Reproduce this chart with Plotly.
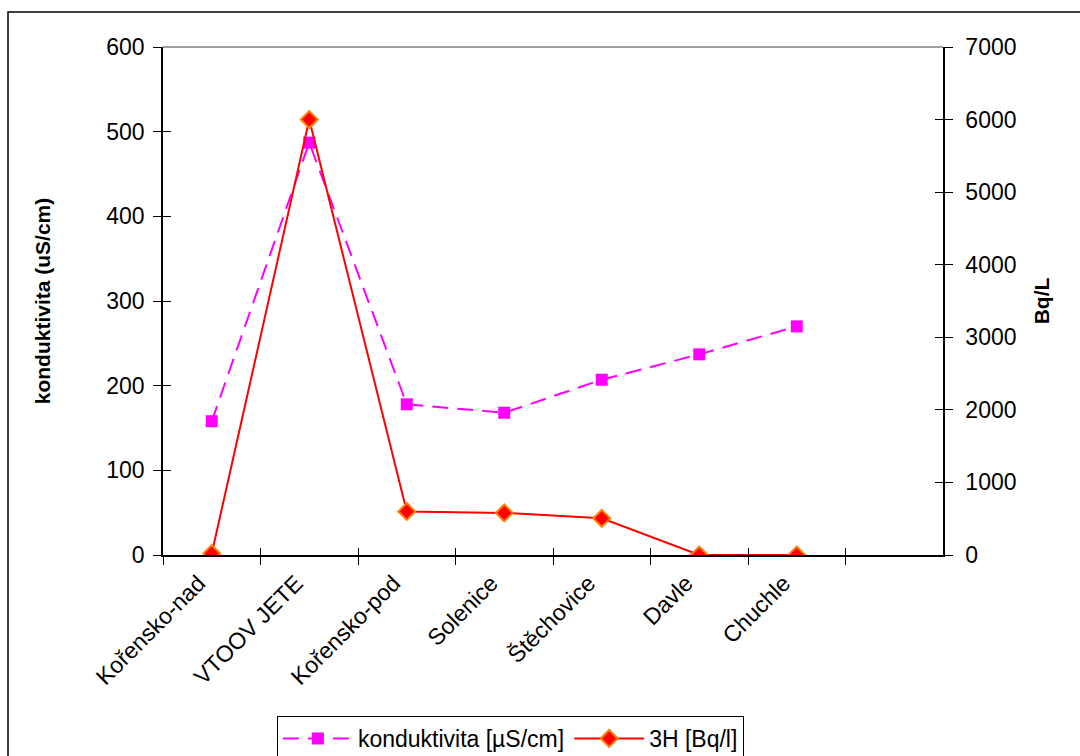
import plotly.graph_objects as go

categories = ["Kořensko-nad", "VTOOV JETE", "Kořensko-pod", "Solenice",
              "Štěchovice", "Davle", "Chuchle"]
konduktivita = [158, 487, 178, 168, 207, 237, 270]
tritium = [20, 6000, 600, 580, 505, 0, 0]
left_ticks = [0, 100, 200, 300, 400, 500, 600]
right_ticks = [0, 1000, 2000, 3000, 4000, 5000, 6000, 7000]
boundaries = [-0.5, 0.5, 1.5, 2.5, 3.5, 4.5, 5.5, 6.5, 7.5]

FONT = "Liberation Sans, Arial, sans-serif"

fig = go.Figure()
fig.add_trace(go.Scatter(
    x=categories, y=konduktivita, name="konduktivita [µS/cm]",
    mode="lines+markers",
    line=dict(color="#FF00FF", width=2, dash="16px,9px"),
    marker=dict(symbol="square", size=12, color="#FF00FF"),
))
fig.add_trace(go.Scatter(
    x=categories, y=tritium, name="3H [Bq/l]", yaxis="y2",
    mode="lines+markers",
    line=dict(color="#FF0000", width=2),
    marker=dict(symbol="diamond", size=13, color="#FF0000",
                line=dict(color="#FF7F00", width=2)),
))
# empty helper traces so the overlay axes (inner halves of the crossing ticks) are drawn
fig.add_trace(go.Scatter(x=[], y=[], xaxis="x2", yaxis="y3", showlegend=False,
                         hoverinfo="skip"))
fig.add_trace(go.Scatter(x=[], y=[], xaxis="x2", yaxis="y4", showlegend=False,
                         hoverinfo="skip"))

axfont = dict(family=FONT, size=23, color="black")
titlefont = dict(family=FONT, size=21, color="black")
fig.update_layout(
    width=1080, height=756,
    margin=dict(l=163, r=137, t=47, b=201, autoexpand=False),
    paper_bgcolor="white", plot_bgcolor="white",
    font=axfont,
    showlegend=True,
    legend=dict(orientation="h", x=0.146, y=-0.317, xanchor="left", yanchor="top",
                bordercolor="black", borderwidth=1, font=dict(family=FONT, size=23),
                itemwidth=70, tracegroupgap=0),
    xaxis=dict(type="category", categoryorder="array", categoryarray=categories,
               range=[-0.5, 7.5], tickson="boundaries", ticks="outside", ticklen=8,
               tickcolor="black", tickangle=-45, showline=True, linecolor="black",
               linewidth=1.5, showgrid=False, zeroline=False, tickfont=axfont,
               ticklabelstandoff=4, ticklabelshift=-13),
    xaxis2=dict(overlaying="x", anchor="y", side="bottom", type="linear",
                range=[-0.5, 7.5], tickmode="array",
                tickvals=boundaries, ticks="inside", ticklen=7, tickcolor="black",
                showticklabels=False, showline=False, showgrid=False, zeroline=False),
    yaxis=dict(range=[0, 600], tickvals=left_ticks, ticks="outside", ticklen=8,
               tickcolor="black", showline=True, linecolor="black", linewidth=1.5,
               showgrid=False, zeroline=False, tickfont=axfont, ticklabelstandoff=4,
               title=dict(text="<b>konduktivita (uS/cm)</b>", standoff=50,
                          font=titlefont)),
    yaxis3=dict(overlaying="y", anchor="x", side="left", range=[0, 600],
                tickvals=left_ticks, ticks="inside", ticklen=8, tickcolor="black",
                showticklabels=False, showline=False, showgrid=False, zeroline=False),
    yaxis2=dict(overlaying="y", side="right", anchor="x", range=[0, 7000],
                tickvals=right_ticks, ticks="outside", ticklen=8, tickcolor="black",
                showline=True, linecolor="black", linewidth=1.5, showgrid=False,
                zeroline=False, tickfont=axfont, ticklabelstandoff=8,
                title=dict(text="<b>Bq/L</b>", standoff=19, font=titlefont)),
    yaxis4=dict(overlaying="y", side="right", anchor="x", range=[0, 7000],
                tickvals=right_ticks, ticks="inside", ticklen=8, tickcolor="black",
                showticklabels=False, showline=False, showgrid=False, zeroline=False),
    shapes=[
        dict(type="line", xref="paper", yref="paper", x0=0, x1=1, y0=1, y1=1,
             line=dict(color="#808080", width=1.5), layer="below"),
        dict(type="rect", xref="paper", yref="paper", x0=-0.1987, x1=1.25,
             y0=-0.45, y1=1.0689, line=dict(color="black", width=1.5),
             fillcolor="rgba(0,0,0,0)"),
    ],
)

fig.write_html("out.html")
